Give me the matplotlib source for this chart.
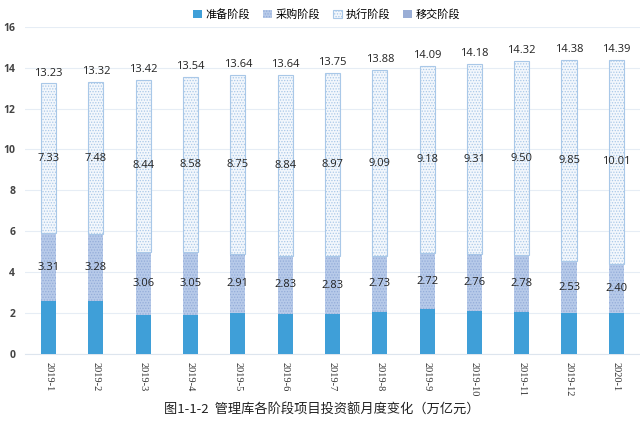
import matplotlib
matplotlib.use("Agg")
import numpy as np
import matplotlib.pyplot as plt

plt.rcParams['font.family'] = ['Noto Sans CJK SC', 'DejaVu Sans']
plt.rcParams['hatch.linewidth'] = 0.6

months = ["2019-1", "2019-2", "2019-3", "2019-4", "2019-5", "2019-6", "2019-7",
          "2019-8", "2019-9", "2019-10", "2019-11", "2019-12", "2020-1"]
prep = [2.59, 2.56, 1.92, 1.91, 1.98, 1.97, 1.95, 2.06, 2.19, 2.11, 2.04, 2.00, 1.98]
procure = [3.31, 3.28, 3.06, 3.05, 2.91, 2.83, 2.83, 2.73, 2.72, 2.76, 2.78, 2.53, 2.40]
execute = [7.33, 7.48, 8.44, 8.58, 8.75, 8.84, 8.97, 9.09, 9.18, 9.31, 9.50, 9.85, 10.01]
transfer = [0, 0, 0, 0, 0, 0, 0, 0, 0, 0, 0, 0, 0]
totals = [13.23, 13.32, 13.42, 13.54, 13.64, 13.64, 13.75, 13.88, 14.09, 14.18, 14.32, 14.38, 14.39]

x = np.arange(len(months))
w = 0.32

fig = plt.figure(figsize=(6.4, 4.32), dpi=100)
ax = fig.add_axes([0.039, 0.181, 0.961, 0.757])

prep = np.array(prep)
procure = np.array(procure)
execute = np.array(execute)
transfer = np.array(transfer)

b1 = ax.bar(x, prep, w, color="#3f9fd8", linewidth=0, label="准备阶段", zorder=3)
b2 = ax.bar(x, procure, w, bottom=prep, facecolor="#b7cae9", edgecolor="#93acd9",
            hatch="......", linewidth=0, label="采购阶段", zorder=3)
b3 = ax.bar(x, execute, w, bottom=prep + procure, facecolor="#f3f7fc", edgecolor="#a9c8e8",
            hatch="......", linewidth=0.8, label="执行阶段", zorder=3)
b4 = ax.bar(x, transfer, w, bottom=prep + procure + execute, color="#9aaed6",
            linewidth=0, label="移交阶段", zorder=3)

lab = dict(ha="center", va="center", fontsize=8, color="#222222", family=["Open Sans", "DejaVu Sans"], zorder=5)
for i in x:
    ax.text(i, prep[i] + procure[i] / 2, "%.2f" % procure[i], **lab)
    ax.text(i, prep[i] + procure[i] + execute[i] / 2, "%.2f" % execute[i], **lab)
    ax.text(i, totals[i] + 0.5, "%.2f" % totals[i], **lab)

ax.set_xlim(-0.5, len(months) - 0.5)
ax.set_ylim(0, 16)
ax.set_yticks(range(0, 17, 2))
ax.yaxis.grid(True, color="#e6edf5", linewidth=0.8, zorder=0)
ax.set_xticks(x)
ax.set_xticklabels(months, rotation=-90, fontsize=7.5, color="#333333", family=["Liberation Serif"])
ax.tick_params(axis="y", labelsize=7.5, labelcolor="#444444", length=0, pad=7)
ax.tick_params(axis="x", length=0, pad=6)
for lbl in ax.get_yticklabels():
    lbl.set_fontweight("bold")
    lbl.set_family(["Open Sans", "DejaVu Sans"])
for s in ["top", "right", "left"]:
    ax.spines[s].set_visible(False)
ax.spines["bottom"].set_color("#dde5ee")

ax.legend(handles=[b1, b2, b3, b4], loc="upper center", bbox_to_anchor=(0.49, 1.085), ncol=4,
          frameon=False, fontsize=8, handlelength=0.8, handleheight=0.8, handletextpad=0.3,
          columnspacing=1.2)

fig.text(0.503, 0.05, "图1-1-2  管理库各阶段项目投资额月度变化（万亿元）", ha="center", va="center",
         fontsize=9.5, color="#222222")

fig.savefig("out.png", dpi=100, facecolor="white")
